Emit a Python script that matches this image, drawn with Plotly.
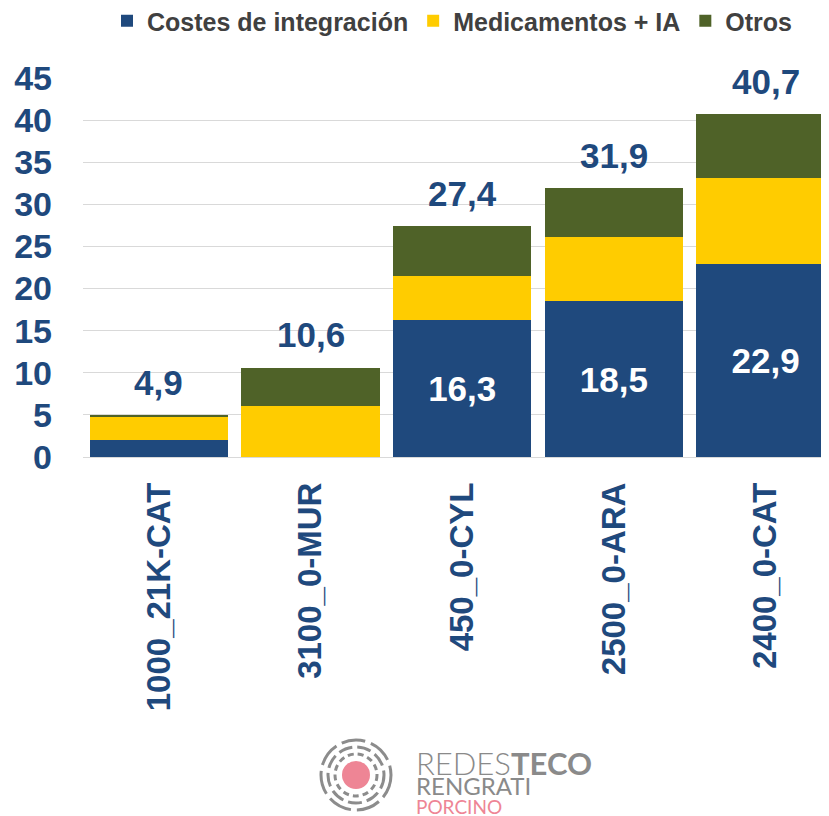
import plotly.graph_objects as go

categories = ["1000_21K-CAT", "3100_0-MUR", "450_0-CYL", "2500_0-ARA", "2400_0-CAT"]
integracion = [2.0, 0.0, 16.3, 18.5, 22.9]
medicamentos = [2.75, 6.0, 5.2, 7.6, 10.2]
otros = [0.15, 4.6, 5.9, 5.8, 7.6]
totales = [4.9, 10.6, 27.4, 31.9, 40.7]
y_ticks = [0, 5, 10, 15, 20, 25, 30, 35, 40, 45]

BLUE = "#1F497D"
YELLOW = "#FFCC00"
GREEN = "#4F6228"
TXT = "#1F497D"
FONT = "Liberation Sans, Arial, sans-serif"

# the page adds an 8px body margin; the figure is sized to fit the window
OFF = 8
W, H = 829 - OFF, 816 - OFF
L, T = 83 - OFF, 78 - OFF
PLOT_BOTTOM = 457 - OFF
R, B = 0, H - PLOT_BOTTOM
PW, PH = W - L - R, H - T - B


def px(xp):  # page pixel -> paper x
    return (xp - OFF - L) / PW


def py(yp):  # page pixel -> paper y
    return (PLOT_BOTTOM - (yp - OFF)) / PH


def fmt(v):
    return f"{v:.1f}".replace(".", ",")


inner_text = [fmt(v) if v >= 10 else "" for v in integracion]

fig = go.Figure()
fig.add_bar(x=categories, y=integracion, name="Costes de integración",
            marker=dict(color=BLUE, line=dict(width=0)),
            text=inner_text, textposition="inside", insidetextanchor="middle",
            textangle=0,
            textfont=dict(color="white", size=35, family=FONT, weight="bold"))
fig.add_bar(x=categories, y=medicamentos, name="Medicamentos + IA",
            marker=dict(color=YELLOW, line=dict(width=0)))
fig.add_bar(x=categories, y=otros, name="Otros",
            marker=dict(color=GREEN, line=dict(width=0)))

for c, t in zip(categories, totales):
    fig.add_annotation(x=c, y=t, text=fmt(t), showarrow=False,
                       yanchor="middle", yshift=33,
                       font=dict(color=TXT, size=35, family=FONT, weight="bold"))

# Logo
cx, cy = 356, 775
shapes = []
shapes.append(dict(type="circle", xref="paper", yref="paper",
                   xsizemode="pixel", ysizemode="pixel",
                   xanchor=px(cx), yanchor=py(cy),
                   x0=-14, x1=14, y0=-14, y1=14,
                   fillcolor="#EE8595", line=dict(width=0)))
for r, dash, w in [(21, "6px,4px", 3), (28, "14px,5px", 3), (35, "24px,6px", 3)]:
    shapes.append(dict(type="circle", xref="paper", yref="paper",
                       xsizemode="pixel", ysizemode="pixel",
                       xanchor=px(cx), yanchor=py(cy),
                       x0=-r, x1=r, y0=-r, y1=r,
                       line=dict(color="#8C8C8C", width=w, dash=dash)))

logo_text = ("<span style='font-size:31px'>REDES<b>TECO</b></span><br>"
             "<span style='font-size:24px;font-weight:400'>RENGRATI</span><br>"
             "<span style='font-size:19px;font-weight:400;color:#EE8595'>PORCINO</span>")
fig.add_annotation(xref="paper", yref="paper", x=px(414), y=py(781),
                   xanchor="left", yanchor="middle", showarrow=False,
                   align="left", text=logo_text,
                   font=dict(family="Lato, Open Sans, sans-serif", size=15,
                             color="#8A8A8A", weight=300))

fig.update_layout(
    width=W, height=H,
    margin=dict(l=L, r=R, t=T, b=B, autoexpand=False),
    barmode="stack", bargap=0.088,
    plot_bgcolor="white", paper_bgcolor="white",
    shapes=shapes,
    legend=dict(orientation="h", xref="container", yref="container",
                x=(107 - OFF) / W, xanchor="left", y=1 - (21 - OFF) / H,
                yanchor="middle",
                font=dict(family=FONT, size=25, color="#404040", weight="bold"),
                itemwidth=30, traceorder="normal", tracegroupgap=0),
    xaxis=dict(range=[-0.5, 4.418], tickangle=-90, showgrid=False,
               showline=False, ticks="", ticklabelstandoff=18,
               automargin=False,
               tickfont=dict(family=FONT, size=33, color=TXT, weight="bold")),
    yaxis=dict(range=[0, 45], tickvals=y_ticks, showgrid=True,
               gridcolor="#D9D9D9", gridwidth=1, zeroline=True,
               zerolinecolor="#D9D9D9", zerolinewidth=1, showline=False,
               ticks="", ticklabelstandoff=30, automargin=False,
               tickfont=dict(family=FONT, size=34, color=TXT, weight="bold")),
)

fig.write_html("out.html")
